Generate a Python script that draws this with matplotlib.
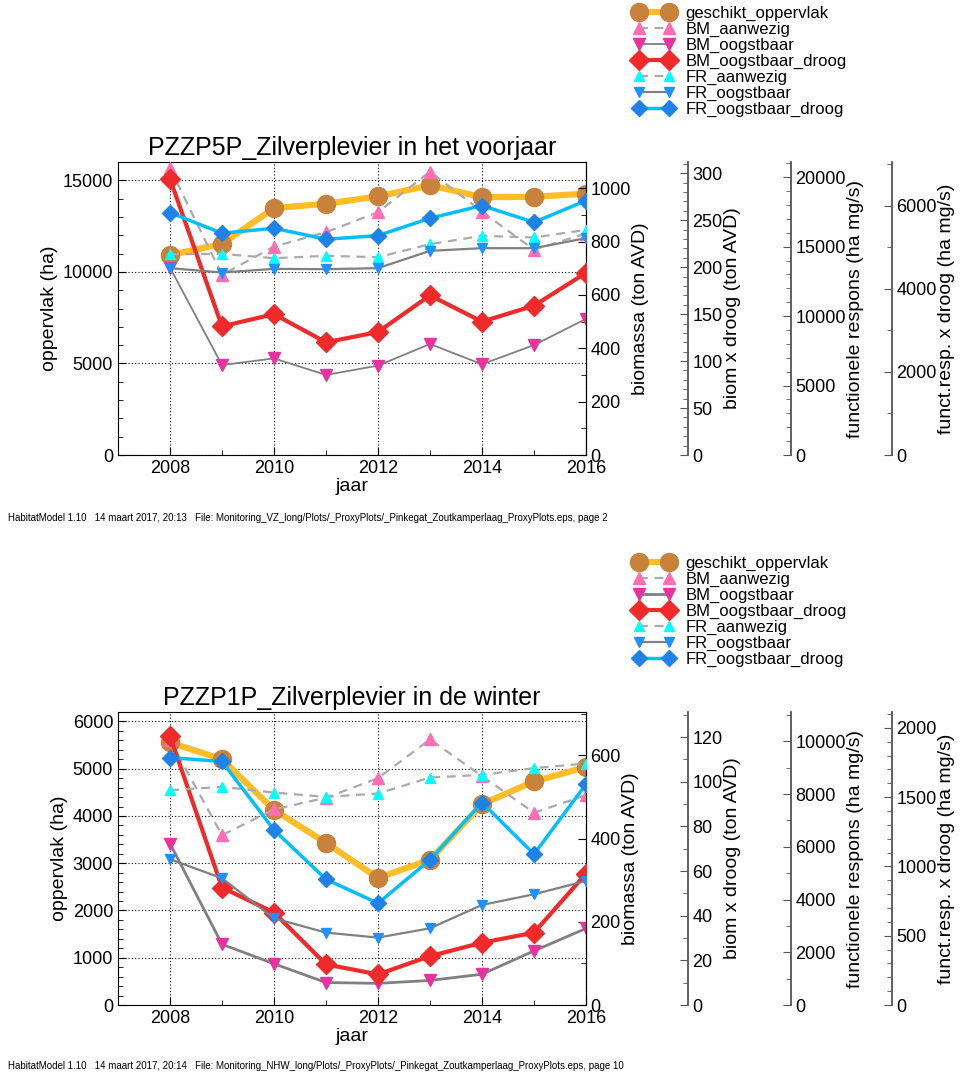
import matplotlib
matplotlib.use("Agg")
import matplotlib.pyplot as plt
from matplotlib.ticker import MultipleLocator

plt.rcParams["font.family"] = ["Liberation Sans", "DejaVu Sans"]

YEARS = [2008, 2009, 2010, 2011, 2012, 2013, 2014, 2015, 2016]

# PZZP5P voorjaar
VJ_GESCHIKT = [10920, 11530, 13480, 13720, 14120, 14730, 14080, 14100, 14270]
VJ_BM_AANWEZIG = [1075, 675, 781, 835, 910, 1062, 912, 769, 830]
VJ_BM_OOGSTBAAR = [702, 337, 362, 300, 335, 416, 340, 412, 510]
VJ_BM_OOGSTBAAR_DROOG = [294, 137, 150, 120, 131, 170, 142, 159, 194]
VJ_FR_AANWEZIG = [14460, 14485, 14174, 14342, 14245, 15183, 15784, 15663, 16216]
VJ_FR_OOGSTBAAR = [13454, 13141, 13405, 13381, 13454, 14703, 14894, 14894, 15616]
VJ_FR_OOGSTBAAR_DROOG = [5837, 5340, 5460, 5195, 5283, 5701, 6006, 5604, 6126]

# PZZP1P winter
WI_GESCHIKT = [5555, 5200, 4130, 3430, 2690, 3070, 4250, 4730, 5035]
WI_BM_AANWEZIG = [636, 408, 470, 498, 545, 638, 550, 462, 504]
WI_BM_OOGSTBAAR = [388, 146, 99, 54, 52, 59, 74, 130, 184]
WI_BM_OOGSTBAAR_DROOG = [120.5, 52.6, 41.4, 18.2, 13.7, 21.9, 27.9, 32.4, 58.8]
WI_FR_AANWEZIG = [8145, 8271, 8056, 7892, 8018, 8625, 8726, 8980, 9156]
WI_FR_OOGSTBAAR = [5527, 4806, 3289, 2744, 2556, 2909, 3794, 4199, 4704]
WI_FR_OOGSTBAAR_DROOG = [1785, 1757, 1263, 907, 734, 1047, 1461, 1088, 1593]

LABELS = ["geschikt_oppervlak", "BM_aanwezig", "BM_oogstbaar", "BM_oogstbaar_droog",
          "FR_aanwezig", "FR_oogstbaar", "FR_oogstbaar_droog"]

SPINE_GREY = "#555555"
TICK_FS = 13
LABEL_FS = 14


def style_extra(ax, pos, ylim, major, minor, label):
    for s in ("left", "top", "bottom"):
        ax.spines[s].set_visible(False)
    ax.spines["right"].set_position(("axes", pos))
    if pos > 1.0:
        ax.spines["right"].set_color(SPINE_GREY)
        ax.spines["right"].set_linewidth(1.3)
    ax.set_ylim(0, ylim)
    ax.yaxis.set_major_locator(MultipleLocator(major))
    ax.yaxis.set_minor_locator(MultipleLocator(minor))
    ax.tick_params(axis="y", which="both", direction="in", labelsize=TICK_FS,
                   color=SPINE_GREY if pos > 1.0 else "black", pad=3)
    ax.tick_params(axis="y", which="major", length=6)
    ax.tick_params(axis="y", which="minor", length=3.5)
    ax.set_ylabel(label, fontsize=LABEL_FS, labelpad=1)


def panel(fig, rect, title, data, limits, ticks, pw_bm):
    (geschikt, bm_aan, bm_oog, bm_droog, fr_aan, fr_oog, fr_droog) = data
    ax = fig.add_axes(rect)
    ax.set_xlim(2007, 2016)
    ax.set_ylim(0, limits[0])
    ax.xaxis.set_major_locator(MultipleLocator(2))
    ax.xaxis.set_minor_locator(MultipleLocator(1))
    ax.yaxis.set_major_locator(MultipleLocator(ticks[0][0]))
    ax.yaxis.set_minor_locator(MultipleLocator(ticks[0][1]))
    ax.tick_params(which="both", direction="in", labelsize=TICK_FS, right=False)
    ax.tick_params(which="major", length=6)
    ax.tick_params(which="minor", length=3.5)
    ax.grid(True, which="major", color="black", linestyle=(0, (1, 2)), linewidth=0.8)
    ax.set_xlabel("jaar", fontsize=LABEL_FS, labelpad=1)
    ax.set_ylabel("oppervlak (ha)", fontsize=LABEL_FS, labelpad=3)
    ax.set_title(title, fontsize=18, pad=5)

    h = []
    h += ax.plot(YEARS, geschikt, color="#FFBE28", lw=4.5, marker="o", ms=13,
                 mfc="#C8823C", mec="#C8823C")

    ax_bm = ax.twinx()
    style_extra(ax_bm, 1.0, limits[1], ticks[1][0], ticks[1][1], "biomassa (ton AVD)")
    h += ax_bm.plot(YEARS, bm_aan, color="#AAAAAA", lw=1.6, ls=(0, (4, 3)), marker="^",
                    ms=9, mfc="#FF6EB4", mec="#FF6EB4")
    h += ax_bm.plot(YEARS, bm_oog, color="#808080", lw=pw_bm, marker="v",
                    ms=9, mfc="#E832A0", mec="#E832A0")

    ax_dr = ax.twinx()
    style_extra(ax_dr, 1.218, limits[2], ticks[2][0], ticks[2][1], "biom x droog (ton AVD)")
    h += ax_dr.plot(YEARS, bm_droog, color="#EE2A2A", lw=3, marker="D", ms=10,
                    mfc="#EE2A2A", mec="#EE2A2A")

    ax_fr = ax.twinx()
    style_extra(ax_fr, 1.438, limits[3], ticks[3][0], ticks[3][1],
                "functionele respons (ha mg/s)")
    h += ax_fr.plot(YEARS, fr_aan, color="#AAAAAA", lw=1.6, ls=(0, (4, 3)), marker="^",
                    ms=7, mfc="#00FFFF", mec="#00FFFF")
    h += ax_fr.plot(YEARS, fr_oog, color="#808080", lw=1.6, marker="v",
                    ms=7, mfc="#1E90FF", mec="#1E90FF")

    ax_fd = ax.twinx()
    style_extra(ax_fd, 1.654, limits[4], ticks[4][0], ticks[4][1],
                "funct.resp. x droog (ha mg/s)")
    h += ax_fd.plot(YEARS, fr_droog, color="#00BFFF", lw=2.5, marker="D", ms=8,
                    mfc="#1E82E6", mec="#1E82E6")
    return h


def main():
    fig = plt.figure(figsize=(9.61, 10.72), dpi=100)
    W, H = 961.0, 1072.0

    h1 = panel(fig, [118 / W, 1 - 455 / H, 468 / W, 293 / H],
               "PZZP5P_Zilverplevier in het voorjaar",
               (VJ_GESCHIKT, VJ_BM_AANWEZIG, VJ_BM_OOGSTBAAR, VJ_BM_OOGSTBAAR_DROOG,
                VJ_FR_AANWEZIG, VJ_FR_OOGSTBAAR, VJ_FR_OOGSTBAAR_DROOG),
               (16000, 1098, 312, 21100, 7055),
               ((5000, 1000), (200, 100), (50, 10), (5000, 1000), (2000, 1000)),
               pw_bm=1.3)
    h2 = panel(fig, [118 / W, 1 - 1005 / H, 468 / W, 293 / H],
               "PZZP1P_Zilverplevier in de winter",
               (WI_GESCHIKT, WI_BM_AANWEZIG, WI_BM_OOGSTBAAR, WI_BM_OOGSTBAAR_DROOG,
                WI_FR_AANWEZIG, WI_FR_OOGSTBAAR, WI_FR_OOGSTBAAR_DROOG),
               (6200, 704, 131.2, 11110, 2114),
               ((1000, 200), (200, 100), (20, 10), (2000, 1000), (500, 100)),
               pw_bm=2.0)

    for handles, ytop in ((h1, 6), (h2, 556)):
        fig.legend(handles, LABELS, loc="upper left",
                   bbox_to_anchor=(634 / W, 1 - ytop / H), frameon=False,
                   fontsize=12, numpoints=2, handlelength=2.4, handletextpad=0.7,
                   labelspacing=0.05, borderpad=0, borderaxespad=0)

    fig.text(8 / W, 1 - 518 / H,
             "HabitatModel 1.10   14 maart 2017, 20:13   File: Monitoring_VZ_long/Plots/"
             "_ProxyPlots/_Pinkegat_Zoutkamperlaag_ProxyPlots.eps, page 2",
             fontsize=7, va="center")
    fig.text(8 / W, 1 - 1066 / H,
             "HabitatModel 1.10   14 maart 2017, 20:14   File: Monitoring_NHW_long/Plots/"
             "_ProxyPlots/_Pinkegat_Zoutkamperlaag_ProxyPlots.eps, page 10",
             fontsize=7, va="center")

    fig.savefig("out.png", dpi=100)


if __name__ == "__main__":
    main()
